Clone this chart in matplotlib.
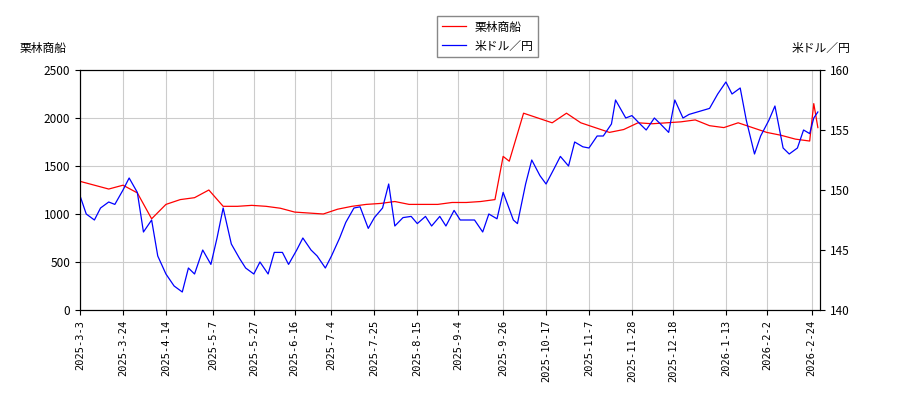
import matplotlib
matplotlib.use('Agg')
import matplotlib.pyplot as plt
import pandas as pd

plt.rcParams['font.family'] = ['Noto Sans CJK JP', 'DejaVu Sans']

stock_dates = ['2025-03-03', '2025-03-10', '2025-03-17', '2025-03-24', '2025-03-31', '2025-04-07',
               '2025-04-14', '2025-04-21', '2025-04-28', '2025-05-05', '2025-05-12', '2025-05-19',
               '2025-05-26', '2025-06-02', '2025-06-09', '2025-06-16', '2025-06-23', '2025-06-30',
               '2025-07-07', '2025-07-14', '2025-07-21', '2025-07-28', '2025-08-04', '2025-08-11',
               '2025-08-18', '2025-08-25', '2025-09-01', '2025-09-08', '2025-09-15', '2025-09-22',
               '2025-09-26', '2025-09-29', '2025-10-06', '2025-10-13', '2025-10-20', '2025-10-27',
               '2025-11-03', '2025-11-10', '2025-11-17', '2025-11-24', '2025-12-01', '2025-12-08',
               '2025-12-15', '2025-12-22', '2025-12-29', '2026-01-05', '2026-01-12', '2026-01-19',
               '2026-01-26', '2026-02-02', '2026-02-09', '2026-02-16', '2026-02-23', '2026-02-25',
               '2026-02-27']
stock = [1340, 1300, 1260, 1300, 1220, 950, 1100, 1150, 1170, 1250, 1080, 1080,
         1090, 1080, 1060, 1020, 1010, 1000, 1050, 1080, 1100, 1110, 1130, 1100,
         1100, 1100, 1120, 1120, 1130, 1150, 1600, 1550, 2050, 2000, 1950, 2050,
         1950, 1900, 1850, 1880, 1950, 1940, 1950, 1960, 1980, 1920, 1900, 1950,
         1900, 1850, 1820, 1780, 1760, 2150, 1900]

fx_dates = ['2025-03-03', '2025-03-06', '2025-03-10', '2025-03-13', '2025-03-17', '2025-03-20',
            '2025-03-24', '2025-03-27', '2025-03-31', '2025-04-03', '2025-04-07', '2025-04-10',
            '2025-04-14', '2025-04-18', '2025-04-22', '2025-04-25', '2025-04-28', '2025-05-02',
            '2025-05-06', '2025-05-09', '2025-05-12', '2025-05-16', '2025-05-20', '2025-05-23',
            '2025-05-27', '2025-05-30', '2025-06-03', '2025-06-06', '2025-06-10', '2025-06-13',
            '2025-06-17', '2025-06-20', '2025-06-24', '2025-06-27', '2025-07-01', '2025-07-04',
            '2025-07-08', '2025-07-11', '2025-07-15', '2025-07-18', '2025-07-22', '2025-07-25',
            '2025-07-29', '2025-08-01', '2025-08-04', '2025-08-08', '2025-08-12', '2025-08-15',
            '2025-08-19', '2025-08-22', '2025-08-26', '2025-08-29', '2025-09-02', '2025-09-05',
            '2025-09-09', '2025-09-12', '2025-09-16', '2025-09-19', '2025-09-23', '2025-09-26',
            '2025-10-01', '2025-10-03', '2025-10-07', '2025-10-10', '2025-10-14', '2025-10-17',
            '2025-10-21', '2025-10-24', '2025-10-28', '2025-10-31', '2025-11-04', '2025-11-07',
            '2025-11-11', '2025-11-14', '2025-11-18', '2025-11-20', '2025-11-25', '2025-11-28',
            '2025-12-02', '2025-12-05', '2025-12-09', '2025-12-12', '2025-12-16', '2025-12-19',
            '2025-12-23', '2025-12-26', '2025-12-30', '2026-01-05', '2026-01-09', '2026-01-13',
            '2026-01-16', '2026-01-20', '2026-01-23', '2026-01-27', '2026-01-30', '2026-02-03',
            '2026-02-06', '2026-02-10', '2026-02-13', '2026-02-17', '2026-02-20', '2026-02-23',
            '2026-02-25', '2026-02-27']
fx = [149.5, 148, 147.5, 148.5, 149, 148.8, 150, 151, 149.8, 146.5, 147.5, 144.5,
      143, 142, 141.5, 143.5, 143, 145, 143.8, 146, 148.5, 145.5, 144.3, 143.5,
      143, 144, 143, 144.8, 144.8, 143.8, 145, 146, 145, 144.5, 143.5, 144.5,
      146, 147.3, 148.5, 148.6, 146.8, 147.7, 148.5, 150.5, 147, 147.7, 147.8, 147.2,
      147.8, 147, 147.8, 147, 148.3, 147.5, 147.5, 147.5, 146.5, 148, 147.6, 149.8,
      147.5, 147.2, 150.5, 152.5, 151.2, 150.5, 151.8, 152.8, 152, 154, 153.6, 153.5,
      154.5, 154.5, 155.5, 157.5, 156, 156.2, 155.5, 155, 156, 155.5, 154.8, 157.5,
      156, 156.3, 156.5, 156.8, 158, 159, 158, 158.5, 155.8, 153, 154.5, 155.8,
      157, 153.5, 153, 153.5, 155, 154.7, 156, 156.5]

tick_labels = ['2025-3-3', '2025-3-24', '2025-4-14', '2025-5-7', '2025-5-27', '2025-6-16',
               '2025-7-4', '2025-7-25', '2025-8-15', '2025-9-4', '2025-9-26', '2025-10-17',
               '2025-11-7', '2025-11-28', '2025-12-18', '2026-1-13', '2026-2-2', '2026-2-24']
fx_ticks = [140, 145, 150, 155, 160]

fig = plt.figure(figsize=(9, 4), dpi=100)
ax = fig.add_axes([0.089, 0.225, 0.822, 0.6])
ax2 = ax.twinx()

l1, = ax.plot(pd.to_datetime(stock_dates), stock, color='red', lw=0.9, label='栗林商船')
l2, = ax2.plot(pd.to_datetime(fx_dates), fx, color='blue', lw=0.9, label='米ドル／円')

ax.set_ylim(0, 2500)
ax2.set_ylim(140, 160)
ax2.set_yticks(fx_ticks)
ax.set_xlim(pd.Timestamp('2025-03-03'), pd.Timestamp('2026-02-28'))
ax.set_xticks(pd.to_datetime(tick_labels))
ax.set_xticklabels(tick_labels, rotation=90, fontsize=7.5, family='DejaVu Sans Mono')
ax.tick_params(axis='y', labelsize=8.5)
ax2.tick_params(axis='y', labelsize=8.5)
ax.grid(True, color='#cccccc', lw=0.8)

fig.text(0.022, 0.87, '栗林商船', fontsize=8.5)
fig.text(0.945, 0.87, '米ドル／円', fontsize=8.5, ha='right')
fig.legend(handles=[l1, l2], loc='upper center', bbox_to_anchor=(0.542, 0.975),
           fontsize=8.5, framealpha=1, edgecolor='#888888', fancybox=False)

fig.savefig('out.png')
